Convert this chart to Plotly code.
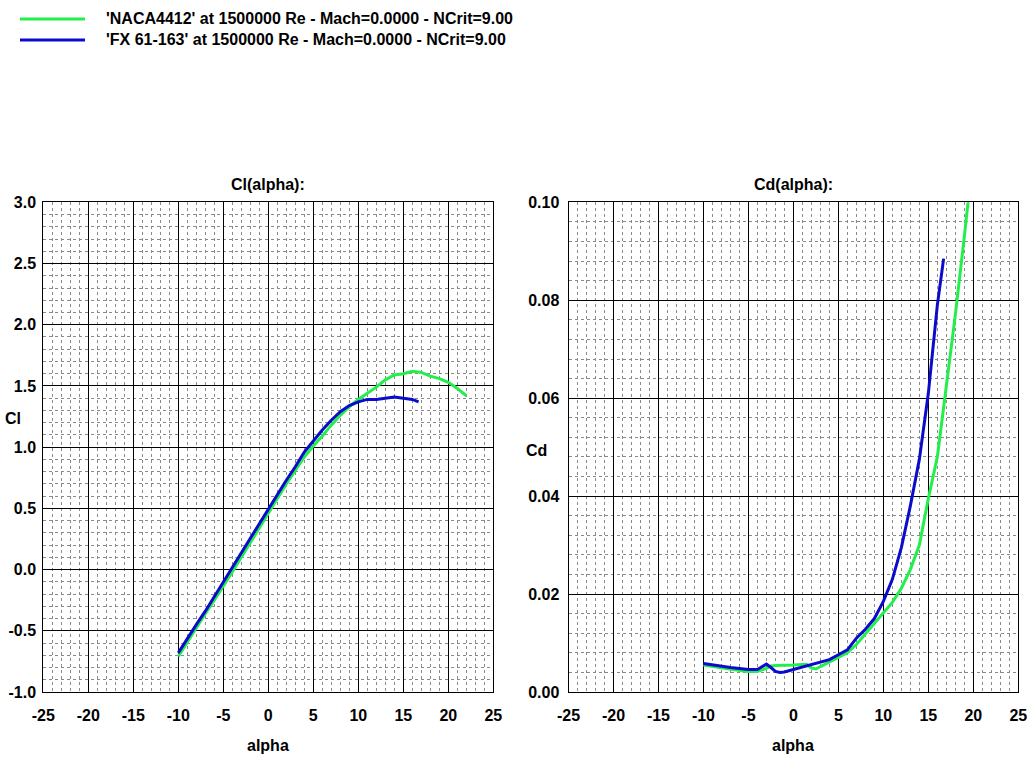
import plotly.graph_objects as go

# polar data, Re = 1.5e6
naca_alpha_cl = [-10, -9, -8, -7, -6, -5, -4, -3, -2, -1, 0, 1, 2, 3, 4, 5, 6, 7, 8, 9,
                 10, 11, 12, 13, 14, 15, 16, 17, 18, 19, 20, 21, 22]
naca_cl = [-0.71, -0.59, -0.48, -0.36, -0.25, -0.14, -0.02, 0.10, 0.22, 0.35, 0.47, 0.59,
           0.70, 0.81, 0.92, 1.01, 1.09, 1.18, 1.26, 1.33, 1.39, 1.44, 1.49, 1.55, 1.59,
           1.60, 1.62, 1.61, 1.58, 1.56, 1.53, 1.48, 1.42]

fx_alpha_cl = [-10, -9, -8, -7, -6, -5, -4, -3, -2, -1, 0, 1, 2, 3, 4, 5, 6, 7, 8, 9,
               10, 11, 12, 13, 14, 15, 16, 16.7]
fx_cl = [-0.68, -0.56, -0.45, -0.34, -0.22, -0.11, 0.02, 0.14, 0.26, 0.38, 0.50, 0.62,
         0.73, 0.84, 0.96, 1.05, 1.14, 1.22, 1.29, 1.34, 1.37, 1.39, 1.39, 1.40, 1.41,
         1.40, 1.39, 1.37]

naca_alpha_cd = [-10, -9, -8, -7, -6, -5, -4, -3, -2.5, -2, -1, 0, 1, 1.5, 2, 2.5, 3, 4, 5,
                 6, 7, 8, 9, 10, 11, 12, 13, 14, 15, 16, 17, 18, 19, 19.5, 20]
naca_cd = [0.0055, 0.0052, 0.0049, 0.0047, 0.0044, 0.0042, 0.0042, 0.0048, 0.0053, 0.0054,
           0.0054, 0.0055, 0.0056, 0.0056, 0.0049, 0.0047, 0.0052, 0.0061, 0.0071, 0.0080,
           0.0097, 0.0118, 0.0140, 0.0160, 0.0183, 0.0212, 0.0250, 0.0300, 0.0395, 0.0480,
           0.0625, 0.0770, 0.0930, 0.1005, 0.1100]

fx_alpha_cd = [-10, -9, -8, -7, -6, -5, -4, -3.5, -3, -2.5, -2, -1.5, -1, 0, 1, 2, 3, 4, 5,
               6, 7, 8, 9, 10, 11, 12, 13, 14, 15, 16, 16.7]
fx_cd = [0.0058, 0.0055, 0.0052, 0.0050, 0.0048, 0.0046, 0.0046, 0.0052, 0.0057, 0.0050,
         0.0042, 0.0040, 0.0041, 0.0046, 0.0051, 0.0055, 0.0060, 0.0066, 0.0076, 0.0086,
         0.0110, 0.0128, 0.0150, 0.0185, 0.0230, 0.0295, 0.0380, 0.0475, 0.0610, 0.0790,
         0.0885]

# tick labels (plain hyphen minus, like the original)
alpha_ticks = [-25, -20, -15, -10, -5, 0, 5, 10, 15, 20, 25]
alpha_ticktext = ['-25', '-20', '-15', '-10', '-5', '0', '5', '10', '15', '20', '25']
cl_ticks = [-1.0, -0.5, 0.0, 0.5, 1.0, 1.5, 2.0, 2.5, 3.0]
cl_ticktext = ['-1.0', '-0.5', '0.0', '0.5', '1.0', '1.5', '2.0', '2.5', '3.0']
cd_ticks = [0.0, 0.02, 0.04, 0.06, 0.08, 0.10]
cd_ticktext = ['0.00', '0.02', '0.04', '0.06', '0.08', '0.10']

names = ["'NACA4412' at 1500000 Re - Mach=0.0000 - NCrit=9.00",
         "'FX 61-163' at 1500000 Re - Mach=0.0000 - NCrit=9.00"]
colors = ['#22ee4c', '#0b0bcc']

W, H = 1035, 757
FONT = 'Liberation Sans'


def px(x):
    return x / W


def py(y):
    return 1 - y / H


fig = go.Figure()

fig.add_trace(go.Scatter(x=naca_alpha_cl, y=naca_cl, mode='lines', name=names[0],
                         line=dict(color=colors[0], width=3), xaxis='x', yaxis='y'))
fig.add_trace(go.Scatter(x=fx_alpha_cl, y=fx_cl, mode='lines', name=names[1],
                         line=dict(color=colors[1], width=3), xaxis='x', yaxis='y'))
fig.add_trace(go.Scatter(x=naca_alpha_cd, y=naca_cd, mode='lines', name=names[0],
                         line=dict(color=colors[0], width=3), xaxis='x2', yaxis='y2'))
fig.add_trace(go.Scatter(x=fx_alpha_cd, y=fx_cd, mode='lines', name=names[1],
                         line=dict(color=colors[1], width=3), xaxis='x2', yaxis='y2'))

textfont = dict(family=FONT, size=16, color='black', weight='bold')


def axis(minor_dtick, **kw):
    d = dict(showgrid=True, gridcolor='black', gridwidth=1,
             showline=True, linecolor='black', linewidth=1, mirror=True,
             zeroline=False, ticks='', tickfont=textfont, automargin=False,
             tickmode='array',
             minor=dict(dtick=minor_dtick, showgrid=True, gridcolor='#8a8a8a',
                        griddash='3px,3px', gridwidth=1))
    d.update(kw)
    return d


ydom = [py(692), py(202.3)]

fig.update_layout(
    width=W, height=H,
    margin=dict(l=0, r=0, t=0, b=0),
    paper_bgcolor='white', plot_bgcolor='white',
    showlegend=False,
    xaxis=axis(1, domain=[px(43.3), px(493.3)], range=[-25, 25],
               tickvals=alpha_ticks, ticktext=alpha_ticktext,
               anchor='y', ticklabelstandoff=9),
    yaxis=axis(0.1, domain=ydom, range=[-1, 3],
               tickvals=cl_ticks, ticktext=cl_ticktext,
               anchor='x', ticklabelstandoff=3),
    xaxis2=axis(1, domain=[px(568.5), px(1018.3)], range=[-25, 25],
                tickvals=alpha_ticks, ticktext=alpha_ticktext,
                anchor='y2', ticklabelstandoff=9),
    yaxis2=axis(0.004, domain=ydom, range=[0, 0.1],
                tickvals=cd_ticks, ticktext=cd_ticktext,
                anchor='x2', ticklabelstandoff=5),
)

labels = [
    ('Cl(alpha):', 268, 184, 'center'),
    ('Cd(alpha):', 793, 184, 'center'),
    ('alpha', 268, 745, 'center'),
    ('alpha', 793, 745, 'center'),
    ('Cl', 3, 418, 'left'),
    ('Cd', 524, 450, 'left'),
]
for txt, x, y, anc in labels:
    fig.add_annotation(text=txt, x=px(x), y=py(y), xref='paper', yref='paper',
                       xanchor=anc, yanchor='middle', showarrow=False, font=textfont)

# legend block at the top left
for i, (name, col) in enumerate(zip(names, colors)):
    yy = 19 + i * 21
    fig.add_shape(type='line', xref='paper', yref='paper',
                  x0=px(20), x1=px(85), y0=py(yy), y1=py(yy),
                  line=dict(color=col, width=3))
    fig.add_annotation(text=name, x=px(104), y=py(yy), xref='paper', yref='paper',
                       xanchor='left', yanchor='middle', showarrow=False, font=textfont)

# page body has a default 8px margin, drop it so the figure sits at 0,0
fig.write_html("out.html", config={'displayModeBar': False},
               post_script="document.body.style.margin='0';")
